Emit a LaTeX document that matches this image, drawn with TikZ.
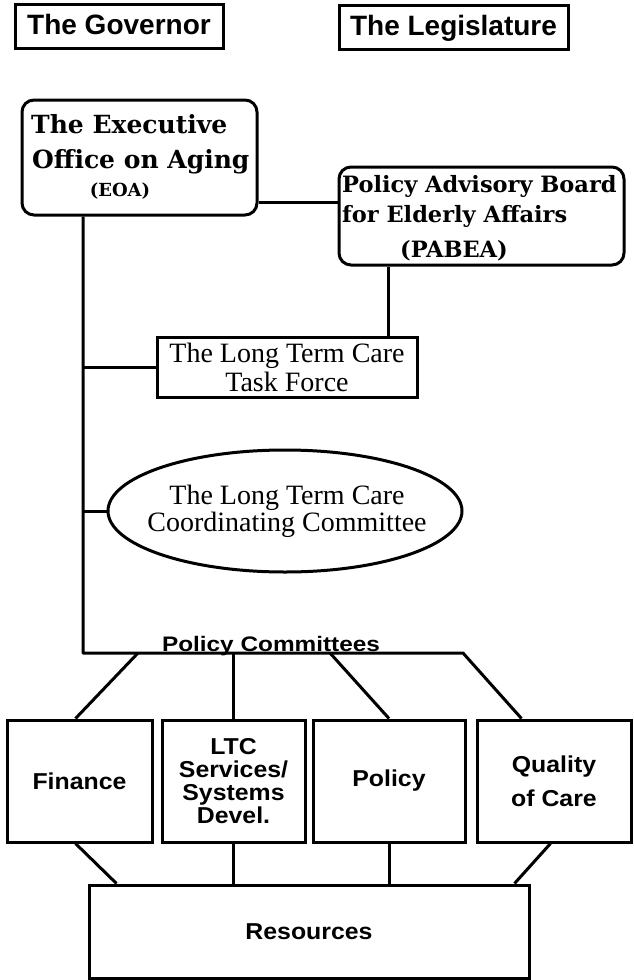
\documentclass[tikz,border=0pt]{standalone}
\usepackage{fontspec}
\setmainfont{Liberation Serif}
\newfontfamily\hsans{Liberation Sans}
\newfontfamily\hsanswide[FakeStretch=1.08]{Liberation Sans}
\newfontfamily\hsanswider[FakeStretch=1.16]{Liberation Sans}
\newfontfamily\dserif{DejaVu Serif}
\usetikzlibrary{shapes.geometric}
\begin{document}
\begin{tikzpicture}[x=1pt,y=-1pt,
  box/.style={draw, rectangle, inner sep=0pt, line width=3pt},
  rbox/.style={box, rounded corners=12pt},
  conn/.style={line width=3pt, line join=round},
  lbl/.style={inner sep=0pt},
  topfont/.style={font=\hsans\bfseries\fontsize{28}{30}\selectfont, text height=21pt, text depth=5pt},
  eoafont/.style={font=\dserif\bfseries\fontsize{25}{28}\selectfont},
  pabfont/.style={font=\dserif\bfseries\fontsize{22.5}{26}\selectfont},
  serffont/.style={font=\fontsize{28}{29}\selectfont},
  commfont/.style={font=\hsanswide\bfseries\fontsize{23}{23}\selectfont}]
\useasboundingbox (0,0) rectangle (633,980);

% top boxes
\node[box, topfont, minimum width=208pt, minimum height=44pt] (gov) at (119,26) {The Governor};
\node[box, topfont, minimum width=229pt, minimum height=44pt] (leg) at (453.5,27) {The Legislature};

% EOA
\node[rbox, minimum width=235pt, minimum height=115pt] (eoa) at (139.5,157.5) {};
\node[lbl, eoafont, anchor=base west] (eoaA) at (31,133) {The Executive};
\node[lbl, eoafont, anchor=base west] (eoaB) at (32,168) {Office on Aging};
\node[lbl, font=\dserif\bfseries\fontsize{18}{20}\selectfont, anchor=base] (eoaC) at (120,196) {(EOA)};

% PABEA
\node[rbox, minimum width=285pt, minimum height=98pt] (pabea) at (481.5,216) {};
\node[lbl, pabfont, anchor=base west] (pabA) at (342,192) {Policy Advisory Board};
\node[lbl, pabfont, anchor=base west] (pabB) at (342,222) {for Elderly Affairs};
\node[lbl, pabfont, anchor=base] (pabC) at (454,257) {(PABEA)};

% Task force
\node[box, serffont, align=center, minimum width=260pt, minimum height=60pt] (tf) at (287,367) {The Long Term Care\\Task Force};

% Coordinating committee
\node[draw, ellipse, line width=3pt, inner sep=0pt, minimum width=354pt, minimum height=122pt] (ltcc) at (285,511) {};
\node[lbl, align=center, font=\fontsize{28}{27}\selectfont] (ltcct) at (287,511) {The Long Term Care\\Coordinating Committee};

% committees
\node[box, commfont, align=center, minimum width=145pt, minimum height=122pt] (fin) at (79.5,781) {Finance};
\node[box, commfont, align=center, minimum width=143pt, minimum height=122pt] (ltc) at (233.5,781) {LTC\\Services/\\Systems\\Devel.};
\node[box, commfont, align=center, minimum width=152pt, minimum height=122pt] (pol) at (389,781) {Policy};
\node[box, align=center, minimum width=154pt, minimum height=122pt, font=\hsanswide\bfseries\fontsize{23}{34}\selectfont] (qoc) at (554,781) {Quality\\of Care};
\node[box, commfont, minimum width=440pt, minimum height=93pt] (res) at (309,931.5) {Resources};

% coordinates
\coordinate (trunk) at (83,0);
\coordinate (h1) at (0,202);
\coordinate (v1) at (388,0);
\coordinate (pcL) at (83,653);
\coordinate (pcR) at (463,653);
\coordinate (f1) at (138,653);
\coordinate (p1) at (330,653);

% connectors
\draw[conn] (eoa.east |- h1) -- (pabea.west |- h1);
\draw[conn] (pabea.south -| v1) -- (tf.north -| v1);
\draw[conn] (eoa.south -| trunk) -- (pcL) -- (pcR) -- ([xshift=46pt]qoc.north west);
\draw[conn] (trunk |- tf.west) -- (tf.west);
\draw[conn] (trunk |- ltcc.west) -- (ltcc.west);
\draw[conn] (f1) -- ([xshift=70pt]fin.north west);
\draw[conn] (ltc.north |- pcL) -- (ltc.north);
\draw[conn] (p1) -- (pol.north);
\draw[conn] ([xshift=70pt]fin.south west) -- ([xshift=29pt]res.north west);
\draw[conn] (ltc.south) -- (ltc.south |- res.north);
\draw[conn] (pol.south) -- (pol.south |- res.north);
\draw[conn] ([xshift=75pt]qoc.south west) -- ([xshift=-16pt]res.north east);

\node[lbl, font=\hsanswider\bfseries\fontsize{21}{21}\selectfont, anchor=base] (pc) at (271,651) {Policy Committees};
\end{tikzpicture}
\end{document}
